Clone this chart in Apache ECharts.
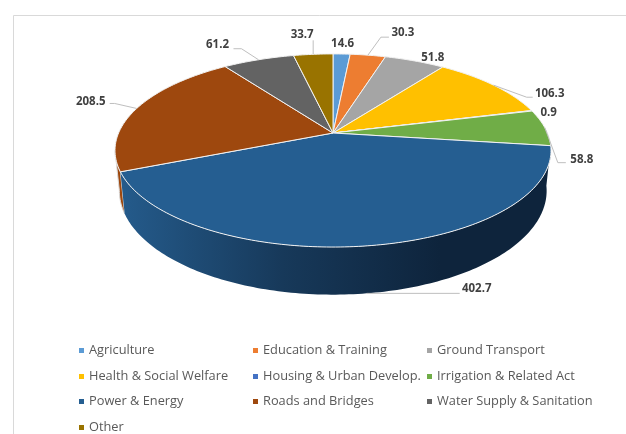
<!DOCTYPE html>
<html>
<head>
<meta charset="utf-8">
<style>
  html, body { margin: 0; padding: 0; background: #fff; }
  #chart { width: 626px; height: 434px; }
</style>
<script src="https://cdn.jsdelivr.net/npm/echarts@6/dist/echarts.min.js"></script>
</head>
<body>
<div id="chart"></div>
<script>
const categories = ["Agriculture", "Education & Training", "Ground Transport", "Health & Social Welfare", "Housing & Urban Develop.", "Irrigation & Related Act", "Power & Energy", "Roads and Bridges", "Water Supply & Sanitation", "Other"];
const values = [14.6, 30.3, 51.8, 106.3, 0.9, 58.8, 402.7, 208.5, 61.2, 33.7];
const colors = ["#5b9bd5", "#ed7d31", "#a5a5a5", "#ffc000", "#4472c4", "#70ad47", "#255e91", "#9e480e", "#636363", "#997300"];

// label centre relative to the rim point of each slice, then elbow of the leader line (null = no line)
const labelOffsets = [[1, -10], [35, -22], [18, -3], [56, 8], [17, 2], [37, 32], [110, -5], [-46, -7], [-41, -15], [-11, -20]];
const leaderElbows = [null, [[13, -18], [21, -18]], null, [[33, 12], [39, 12]], null, [[13, 35], [21, 35]], [[93, 0]], [[-22, -5], [-27, -5]], [[-17, -11], [-25, -11]], [[0, -14]]];

const chart = echarts.init(document.getElementById("chart"));

const total = values.reduce((a, b) => a + b, 0);
const starts = [];
values.reduce((sum, v, i) => { starts[i] = sum; return sum + v; }, 0);

// the disc is a circle seen in perspective, so the centre sits above the middle of the ellipse
const CX = 333, CY = 133, FX = 214.4, FY = 93.4, K = 0.181, DEPTH = 39, INSET = 0.98;

function rim(value, bottom) {
  const a = value / total * Math.PI * 2;
  const X = Math.sin(a), Y = -Math.cos(a), w = 1 - K * Y;
  if (bottom) return [CX + INSET * FX * X / w, CY + (FY * Y + DEPTH) / w];
  return [CX + FX * X / w, CY + FY * Y / w];
}

function arc(from, to, bottom) {
  const pts = [];
  const n = Math.max(2, Math.ceil((to - from) / total * 360));
  for (let i = 0; i <= n; i++) pts.push(rim(from + (to - from) * i / n, bottom));
  return pts;
}

const wallFill = {
  type: "linear", x: 125, y: 0, x2: 440, y2: 0, global: true,
  colorStops: [{ offset: 0, color: "#245a8a" }, { offset: 0.5, color: "#17395a" }, { offset: 1, color: "#0e243c" }]
};

// only the two slices that reach the front of the pie show a side wall
function renderWalls() {
  const walls = [];
  [7, 6].forEach(i => {
    const from = starts[i], to = i === 7 ? starts[i] + values[i] * 0.16 : starts[i] + values[i];
    walls.push({
      type: "polygon",
      shape: { points: arc(from, to, false).concat(arc(from, to, true).reverse()) },
      style: i === 6 ? { fill: wallFill } : { fill: colors[i], stroke: "#d9d9d9", lineWidth: 1 }
    });
  });
  return { type: "group", children: walls };
}

function renderSlice(i) {
  return {
    type: "polygon",
    shape: { points: [[CX, CY]].concat(arc(starts[i], starts[i] + values[i], false)) },
    style: { fill: colors[i], stroke: "#f2f2f2", lineWidth: 1, lineJoin: "round" }
  };
}

function renderLabels() {
  const children = [];
  values.forEach((v, i) => {
    const mid = starts[i] + v / 2;
    const anchor = rim(mid, i === 6);
    if (leaderElbows[i]) {
      const pts = [anchor].concat(leaderElbows[i].map(e => [anchor[0] + e[0], anchor[1] + e[1]]));
      children.push({ type: "polyline", shape: { points: pts }, style: { fill: null, stroke: "#bfbfbf", lineWidth: 1 } });
    }
    children.push({
      type: "text",
      style: {
        x: anchor[0] + labelOffsets[i][0], y: anchor[1] + labelOffsets[i][1],
        text: String(v), fill: "#404040", font: "bold 11.5px 'Open Sans'", align: "center", verticalAlign: "middle"
      }
    });
  });
  return { type: "group", children };
}

const series = [
  { type: "custom", name: "walls", coordinateSystem: "none", silent: true, z: 1, data: [[0]], renderItem: renderWalls }
];
categories.forEach((name, i) => {
  series.push({
    type: "custom", name, coordinateSystem: "none", silent: true, z: 2,
    itemStyle: { color: colors[i] },
    data: [[values[i]]],
    renderItem: () => renderSlice(i)
  });
});
series.push({ type: "custom", name: "labels", coordinateSystem: "none", silent: true, z: 3, data: [[0]], renderItem: renderLabels });

const legendCols = [79, 253, 427];
const legendRows = [344, 370, 395, 421];

chart.setOption({
  animation: false,
  backgroundColor: "#fff",
  tooltip: { show: false },
  legend: categories.map((name, i) => ({
    data: [name],
    left: legendCols[i % 3],
    top: legendRows[Math.floor(i / 3)],
    selectedMode: false,
    icon: "rect",
    itemWidth: 5,
    itemHeight: 5,
    itemGap: 0,
    padding: [0, 0, 0, 0],
    textStyle: { fontFamily: "Open Sans", fontSize: 12.8, color: "#595959" }
  })),
  graphic: [
    { type: "polyline", silent: true, shape: { points: [[13.5, 434], [13.5, 15.5], [626, 15.5]] }, style: { fill: null, stroke: "#d9d9d9", lineWidth: 1 } }
  ],
  series
});
</script>
</body>
</html>
